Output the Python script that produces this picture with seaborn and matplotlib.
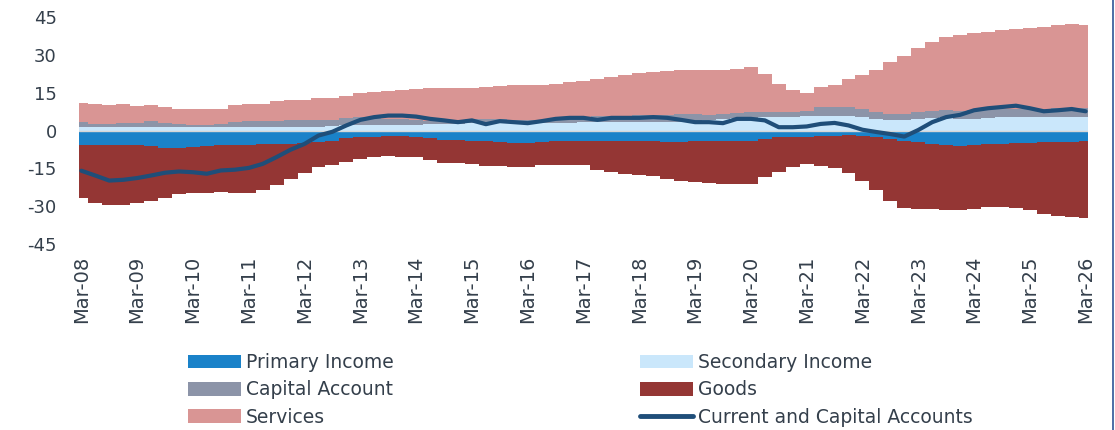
#############################################
########## 1. Import Libraries
#############################################
import numpy as np
import pandas as pd
import matplotlib
matplotlib.use("Agg")
import matplotlib.pyplot as plt
from matplotlib.lines import Line2D
from matplotlib.patches import Patch
import seaborn as sns

#############################################
########## 2. Data (quarterly readings)
#############################################
# Quarter index 0 = Mar-08 ... 72 = Mar-26
primary_income = [
    -5.7, -5.7, -5.7, -5.9, -5.9, -6.3, -7.0, -7.0, -6.6,
    -6.3, -5.9, -5.7, -5.7, -5.5, -5.3, -5.3, -5.1, -4.6,
    -4.0, -2.9, -2.6, -2.4, -2.0, -2.0, -2.4, -2.9, -3.7,
    -3.7, -4.0, -4.2, -4.6, -4.9, -4.9, -4.6, -4.3, -4.2,
    -4.0, -4.2, -4.2, -4.2, -4.2, -4.3, -4.6, -4.6, -4.3,
    -4.3, -4.3, -4.3, -4.0, -3.3, -2.6, -2.4, -2.4, -2.0,
    -2.0, -1.7, -2.0, -2.6, -3.3, -4.0, -4.6, -5.3, -5.9,
    -6.3, -5.9, -5.5, -5.3, -5.1, -5.0, -4.6, -4.6, -4.4, -4.3,
]
secondary_income = [
    1.5, 1.4, 1.4, 1.5, 1.5, 1.4, 1.4, 1.3, 1.2,
    1.3, 1.3, 1.3, 1.3, 1.4, 1.4, 1.4, 1.4, 1.5,
    1.8, 2.0, 2.2, 2.3, 2.3, 2.3, 2.3, 2.4, 2.6,
    2.7, 2.8, 2.8, 2.8, 2.9, 2.9, 2.9, 3.0, 3.0,
    3.2, 3.3, 3.3, 3.3, 3.3, 3.4, 3.4, 3.5, 3.6,
    4.0, 4.4, 4.8, 5.0, 5.2, 5.3, 5.5, 5.8, 5.9,
    5.9, 5.9, 5.3, 4.6, 4.2, 4.2, 4.5, 5.0, 5.3,
    4.6, 4.7, 5.0, 5.2, 5.3, 5.3, 5.3, 5.4, 5.4, 5.5,
]
capital_account = [
    1.8, 1.2, 1.2, 1.5, 1.5, 2.2, 1.5, 1.1, 1.1,
    0.9, 1.1, 2.0, 2.3, 2.2, 2.2, 2.6, 2.6, 2.7,
    2.5, 3.0, 3.1, 2.7, 2.3, 2.3, 1.9, 1.4, 1.2,
    1.5, 1.6, 1.6, 1.6, 1.3, 1.3, 1.3, 1.6, 2.3,
    2.3, 2.3, 2.5, 2.6, 2.7, 2.7, 2.9, 3.0, 3.0,
    2.3, 2.2, 2.0, 2.2, 2.0, 1.9, 2.0, 2.1, 3.3,
    3.3, 3.3, 3.3, 2.6, 2.4, 2.4, 2.7, 2.9, 2.9,
    3.3, 3.3, 3.6, 3.4, 3.3, 3.3, 3.3, 3.4, 3.4, 3.3,
]
goods = [
    -21.0, -22.9, -23.9, -23.7, -22.8, -21.4, -19.6, -18.3, -18.2,
    -18.5, -18.5, -19.1, -19.1, -18.2, -16.4, -13.8, -11.8, -9.7,
    -9.6, -9.6, -8.6, -8.1, -8.1, -8.3, -8.1, -8.7, -9.2,
    -9.2, -9.4, -10.0, -9.6, -9.6, -9.6, -9.2, -9.3, -9.4,
    -9.8, -11.3, -12.3, -12.9, -13.3, -13.8, -14.5, -15.2, -16.1,
    -16.4, -16.8, -16.8, -17.1, -15.2, -13.9, -12.1, -10.8, -12.2,
    -12.8, -15.1, -17.8, -21.1, -24.4, -26.5, -26.4, -25.9, -25.5,
    -25.1, -25.0, -24.8, -25.1, -25.4, -26.6, -28.3, -29.4, -29.9, -30.3,
]
services = [
    7.6, 7.7, 7.5, 7.5, 6.6, 6.3, 6.3, 6.2, 6.3,
    6.4, 6.2, 6.7, 6.7, 6.9, 8.0, 7.9, 8.1, 8.7,
    8.6, 8.8, 9.5, 10.1, 11.2, 11.6, 12.3, 12.9, 13.1,
    12.5, 12.5, 12.7, 13.0, 13.6, 13.6, 13.6, 13.8, 13.8,
    13.9, 14.8, 15.5, 16.2, 16.6, 17.0, 17.4, 17.5, 17.4,
    17.7, 17.4, 17.6, 17.8, 15.2, 11.0, 8.7, 7.0, 7.9,
    8.8, 11.3, 13.4, 16.8, 20.4, 22.9, 25.3, 27.1, 28.8,
    29.7, 30.5, 30.5, 31.0, 31.6, 32.0, 32.5, 33.1, 33.4, 33.1,
]
current_and_capital = [
    -15.9, -17.8, -19.8, -19.5, -18.8, -17.8, -16.7, -16.2, -16.5,
    -17.1, -15.8, -15.5, -14.8, -13.2, -10.5, -7.6, -5.3, -2.0,
    -0.5, 2.0, 4.2, 5.3, 5.9, 5.9, 5.5, 4.6, 4.0,
    3.3, 4.0, 2.5, 3.7, 3.3, 2.9, 3.7, 4.6, 5.0,
    5.0, 4.2, 5.0, 5.0, 5.0, 5.3, 5.0, 4.2, 3.3,
    3.3, 2.9, 4.6, 4.6, 4.0, 1.3, 1.3, 1.6, 2.6,
    3.0, 2.0, 0.3, -0.6, -1.4, -2.4, 0.2, 3.3, 5.3,
    6.2, 8.0, 8.8, 9.3, 9.8, 8.8, 7.6, 8.0, 8.5, 7.6,
]
tick_labels = ["Mar-08", "Mar-09", "Mar-10", "Mar-11", "Mar-12", "Mar-13", "Mar-14",
               "Mar-15", "Mar-16", "Mar-17", "Mar-18", "Mar-19", "Mar-20", "Mar-21",
               "Mar-22", "Mar-23", "Mar-24", "Mar-25", "Mar-26"]
y_ticks = [-45, -30, -15, 0, 15, 30, 45]

#############################################
########## 3. Plot
#############################################
# Build dataframe, x axis in months since Mar-08
df = pd.DataFrame({
    "month": np.arange(len(services)) * 3,
    "Primary Income": primary_income,
    "Secondary Income": secondary_income,
    "Capital Account": capital_account,
    "Goods": goods,
    "Services": services,
    "Current and Capital Accounts": current_and_capital,
})

colors = {
    "Primary Income": "#1A82C9",
    "Secondary Income": "#CAE7FB",
    "Capital Account": "#8C94A8",
    "Goods": "#943634",
    "Services": "#D99594",
    "Current and Capital Accounts": "#1F4E79",
}
text_color = "#343F4B"

sns.set_theme(style="white")
plt.rcParams["font.family"] = ["DejaVu Sans"]

fig = plt.figure(figsize=(11.15, 4.3), dpi=100)
ax = fig.add_axes([79 / 1115, 1 - 244.3 / 430, (1088 - 79) / 1115, (244.3 - 16.7) / 430])

# Stacked bars: positives above zero, negatives below
pos_bottom = np.zeros(len(df))
for col in ["Secondary Income", "Capital Account", "Services"]:
    ax.bar(df["month"], df[col], width=3.02, bottom=pos_bottom, color=colors[col],
           linewidth=0, antialiased=False, zorder=2)
    pos_bottom = pos_bottom + df[col].values
neg_bottom = np.zeros(len(df))
for col in ["Primary Income", "Goods"]:
    ax.bar(df["month"], df[col], width=3.02, bottom=neg_bottom, color=colors[col],
           linewidth=0, antialiased=False, zorder=2)
    neg_bottom = neg_bottom + df[col].values

# Zero line and net line
ax.axhline(0, color="#D6D6D6", linewidth=1.0, zorder=2.5)
sns.lineplot(data=df, x="month", y="Current and Capital Accounts",
             color=colors["Current and Capital Accounts"], linewidth=3.0,
             legend=False, ax=ax, zorder=3)

# Axes formatting
ax.set_xlim(-0.5, 216.5)
ax.set_ylim(-45, 45)
ax.set_yticks(y_ticks)
ax.set_yticklabels([str(v) for v in y_ticks])
ax.set_xticks(np.arange(len(tick_labels)) * 12)
ax.set_xticklabels(tick_labels, rotation=90)
ax.tick_params(axis="y", length=0, pad=16, labelsize=13, labelcolor=text_color)
ax.tick_params(axis="x", length=0, pad=8, labelsize=14, labelcolor=text_color)
ax.set_xlabel("")
ax.set_ylabel("")
sns.despine(ax=ax, left=True, bottom=True)

# Legends (two columns placed separately)
def patch(name):
    return Patch(facecolor=colors[name], edgecolor="none", label=name)

legend_kw = dict(loc="upper left", frameon=False, fontsize=13.5, borderpad=0,
                 borderaxespad=0, handlelength=2.8, handleheight=0.75,
                 handletextpad=0.3, labelspacing=0.45, labelcolor=text_color)
fig.legend(handles=[patch("Primary Income"), patch("Capital Account"), patch("Services")],
           bbox_to_anchor=(188 / 1115, 1 - 353 / 430), **legend_kw)
fig.legend(handles=[patch("Secondary Income"), patch("Goods"),
                    Line2D([0], [0], color=colors["Current and Capital Accounts"], linewidth=3.5,
                           label="Current and Capital Accounts")],
           bbox_to_anchor=(640 / 1115, 1 - 353 / 430), **legend_kw)

# Right border of the chart frame
fig.add_artist(Line2D([1112.5 / 1115, 1112.5 / 1115], [0, 1], transform=fig.transFigure,
                      color="#2F5597", linewidth=1.2))

fig.savefig("out.png", dpi=100)
